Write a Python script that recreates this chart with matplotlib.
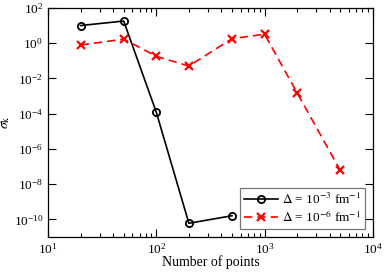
import numpy as np
import matplotlib
matplotlib.use("Agg")
import matplotlib.pyplot as plt
from matplotlib.ticker import LogLocator, NullFormatter

plt.rcParams['font.family'] = ['Liberation Serif', 'DejaVu Serif']
plt.rcParams['mathtext.fontset'] = 'stix'

n_a = [20, 50, 100, 200, 500]
sig_a = [10.0, 18.0, 1.2e-4, 6e-11, 1.6e-10]

n_b = [20, 50, 100, 200, 500, 1000, 2000, 5000]
sig_b = [0.78, 1.7, 0.18, 0.05, 1.8, 3.2, 1.5e-3, 6e-8]

lab_a = r'$\Delta$ = 10$^{-3}$ fm$^{-1}$'
lab_b = r'$\Delta$ = 10$^{-6}$ fm$^{-1}$'

fig = plt.figure(figsize=(3.84, 2.73), dpi=100)
ax = fig.add_axes([0.125, 0.132, 0.846, 0.839])

ax.plot(n_a, sig_a, color='black', lw=1.2, marker='o', ms=5.2, mfc='none',
        mec='black', mew=1.3, label=lab_a)
ax.plot(n_b, sig_b, color='red', lw=1.2, ls=(0, (5, 3)), marker='x', ms=5.5,
        mec='red', mew=1.6, label=lab_b)

ax.set_xscale('log')
ax.set_yscale('log')
ax.set_xlim(10, 1e4)
ax.set_ylim(1e-11, 1e2)

ax.xaxis.set_major_locator(LogLocator(base=10, numticks=10))
ax.xaxis.set_minor_locator(LogLocator(base=10, subs=np.arange(2, 10), numticks=20))
ax.xaxis.set_minor_formatter(NullFormatter())
ax.yaxis.set_major_locator(LogLocator(base=100, numticks=20))
ax.yaxis.set_minor_locator(plt.NullLocator())

ax.tick_params(which='both', direction='in', top=True, right=True, labelsize=9.5)
ax.tick_params(which='major', length=5.5, width=0.8)
ax.tick_params(which='minor', length=2.8, width=0.8)
for s in ax.spines.values():
    s.set_linewidth(0.9)

ax.set_xlabel('Number of points', fontsize=10, labelpad=-1)
ax.set_ylabel(r'$\sigma_{\rm k}$', fontsize=10, labelpad=1)

leg = ax.legend(loc='lower right', fontsize=9.5, frameon=True, fancybox=False,
                edgecolor='#555555', borderpad=0.3, handlelength=2.6,
                handletextpad=0.3, labelspacing=0.2, borderaxespad=0.6)
leg.get_frame().set_linewidth(0.9)

fig.savefig('out.png', dpi=100)
